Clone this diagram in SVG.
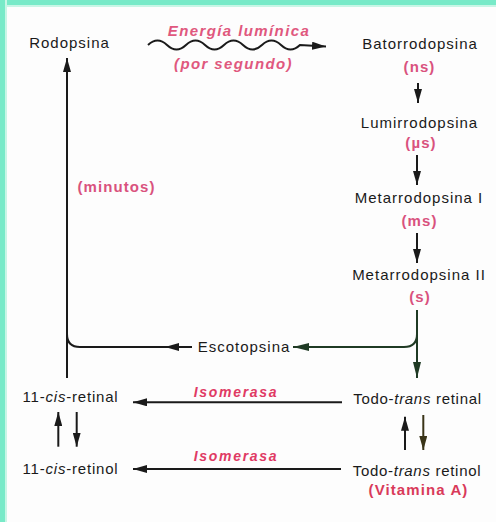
<svg xmlns="http://www.w3.org/2000/svg" width="496" height="522" viewBox="0 0 496 522">
<style>
.t{font-family:"Liberation Sans",Arial,sans-serif;font-size:15px;fill:#1a1a1a;letter-spacing:1px;text-anchor:middle}
.p{font-family:"Liberation Sans",Arial,sans-serif;font-size:15px;fill:#d9527e;font-weight:bold;letter-spacing:1.1px;text-anchor:middle}
.iso{font-family:"Liberation Sans",Arial,sans-serif;font-size:14px;fill:#e03a64;font-weight:bold;font-style:italic;letter-spacing:1.7px;text-anchor:middle}
.e{font-family:"Liberation Sans",Arial,sans-serif;font-size:15px;fill:#e0587e;font-weight:bold;font-style:italic;letter-spacing:1.4px;text-anchor:middle}
.ln{fill:none;stroke:#1a1a1a;stroke-width:2}
.g{stroke:#1f3a24}
</style>
<defs>
<marker id="a" markerUnits="userSpaceOnUse" markerWidth="14" markerHeight="8" refX="14" refY="4" orient="auto" viewBox="0 0 14 8">
<path d="M0,0 L14,4 L0,8 Z" fill="#1a1a1a"/>
</marker>
<marker id="ag" markerUnits="userSpaceOnUse" markerWidth="16" markerHeight="8" refX="16" refY="4" orient="auto" viewBox="0 0 16 8">
<path d="M0,0 L16,4 L0,8 Z" fill="#1f3a24"/>
</marker>
<marker id="ao" markerUnits="userSpaceOnUse" markerWidth="14" markerHeight="8" refX="14" refY="4" orient="auto" viewBox="0 0 14 8">
<path d="M0,0 L14,4 L0,8 Z" fill="#3a3418"/>
</marker>
</defs>
<rect x="0" y="0" width="496" height="522" fill="#fdfdfd"/>
<rect x="0" y="0" width="496" height="5" fill="#78eac8"/>
<rect x="0" y="5" width="496" height="2" fill="#c8f6e6"/>
<rect x="0" y="0" width="5" height="522" fill="#78eac8"/>
<rect x="5" y="0" width="2" height="522" fill="#c8f6e6"/>

<g id="connectors">
<path class="ln" d="M148,45 q9.5,-9 19,0 t19,0 t19,0 t19,0 t19,0 t19,0 t19,0 t19,0 L326,46.5" marker-end="url(#a)"/>
<path class="ln" d="M418,83 L418,103" marker-end="url(#a)"/>
<path class="ln" d="M417,155 L417,185" marker-end="url(#a)"/>
<path class="ln" d="M417,233 L417,263" marker-end="url(#a)"/>
<path class="ln g" d="M417,310 L417,378" marker-end="url(#ag)"/>
<path class="ln g" d="M417,322 L417,334 Q417,347 404,347 L293,347" marker-end="url(#ag)"/>
<path class="ln" d="M192,347 L165,347" marker-end="url(#a)"/>
<path class="ln" d="M170,347 L80,347 Q67,347 67,334"/>
<path class="ln" d="M67,378 L67,58" marker-end="url(#a)"/>
<path class="ln" d="M342,402.3 L133,402.3" marker-end="url(#a)"/>
<path class="ln" d="M341,469 L133,469" marker-end="url(#a)"/>
<path class="ln" d="M58.3,446.7 L58.3,412" marker-end="url(#a)"/>
<path class="ln" d="M76.7,412 L76.7,446.7" marker-end="url(#a)"/>
<path class="ln" d="M405,450 L405,416.7" marker-end="url(#a)"/>
<path class="ln" style="stroke:#3a3418" d="M423.3,415 L423.3,450" marker-end="url(#ao)"/>
</g>

<g id="energia">
<text class="e" x="239" y="35.5">Energía lumínica</text>
<text class="e" x="233.5" y="69">(por segundo)</text>
</g>
<g id="minutos"><text class="p" x="116.5" y="191.5">(minutos)</text></g>
<g id="isomerasa1"><text class="iso" x="236" y="396.5">Isomerasa</text></g>
<g id="isomerasa2"><text class="iso" x="236" y="461">Isomerasa</text></g>

<g id="rodopsina"><text class="t" x="69.5" y="48">Rodopsina</text></g>
<g id="batorrodopsina">
<text class="t" x="420" y="49">Batorrodopsina</text>
<text class="p" x="419.5" y="72">(ns)</text>
</g>
<g id="lumirrodopsina">
<text class="t" x="419.5" y="128">Lumirrodopsina</text>
<text class="p" x="421" y="148">(µs)</text>
</g>
<g id="metarrodopsina1">
<text class="t" x="419" y="203">Metarrodopsina I</text>
<text class="p" x="419.5" y="226">(ms)</text>
</g>
<g id="metarrodopsina2">
<text class="t" x="419" y="280">Metarrodopsina II</text>
<text class="p" x="420" y="302">(s)</text>
</g>
<g id="escotopsina"><text class="t" x="244" y="352">Escotopsina</text></g>
<g id="cis-retinal"><text class="t" style="letter-spacing:0.8px" x="70.5" y="402">11-<tspan font-style="italic">cis</tspan>-retinal</text></g>
<g id="cis-retinol"><text class="t" style="letter-spacing:0.8px" x="70.5" y="473.5">11-<tspan font-style="italic">cis</tspan>-retinol</text></g>
<g id="trans-retinal"><text class="t" style="letter-spacing:0.7px" x="417.5" y="403.5">Todo-<tspan font-style="italic">trans</tspan> retinal</text></g>
<g id="trans-retinol">
<text class="t" style="letter-spacing:0.7px" x="417" y="475.5">Todo-<tspan font-style="italic">trans</tspan> retinol</text>
<text class="p" style="fill:#d93a5a" x="418.5" y="495">(Vitamina A)</text>
</g>
</svg>
